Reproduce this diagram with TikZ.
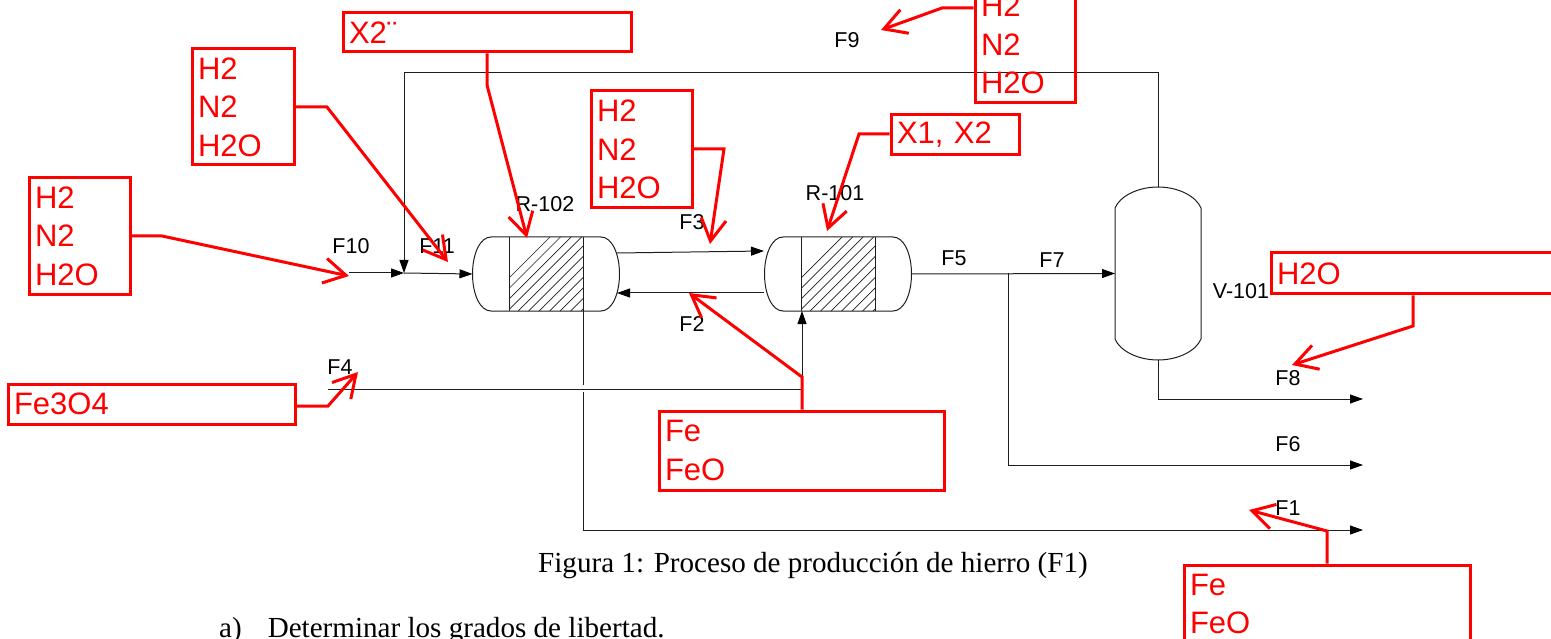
\documentclass[tikz,border=0pt]{standalone}
\usepackage{fontspec}
\setmainfont{Liberation Sans}
\newfontfamily\serifcap{Liberation Serif}
\usetikzlibrary{arrows.meta}
\definecolor{redmark}{RGB}{255,0,0}
\definecolor{procline}{RGB}{30,30,30}
\tikzset{
  redbox/.style={draw=redmark,line width=3pt,text=redmark,rectangle,inner xsep=6pt,inner ysep=0pt,
     align=left,font=\fontsize{31}{38.5}\selectfont},
  redarrow/.style={draw=redmark,line width=3pt,line join=miter,-{Straight Barb[length=22pt,width=25pt,line width=3pt]}},
  proc/.style={draw=procline,line width=1pt},
  flow/.style={proc,-{Triangle[length=13pt,width=9pt,color=black]}},
  lbl/.style={font=\fontsize{21.5}{24}\selectfont,text=black,inner sep=0pt},
  capt/.style={font=\serifcap\fontsize{29.1}{32}\selectfont,text=black,inner sep=0pt,anchor=base west},
  hatchline/.style={draw=procline,line width=0.7pt}
}
\newcommand{\hvessel}[2]{%
  \node[minimum width=147pt,minimum height=74pt,inner sep=0pt,outer sep=0pt] (#1) at (#2,274) {};
  \begin{scope}
    \clip (#2-37,237) rectangle (#2+37,311);
    \foreach \i in {-70,-59.5,...,80} \draw[hatchline] (#2+\i,311) -- (#2+\i+74,237);
  \end{scope}
  \draw[proc] (#2-55,237) .. controls (#2-66,237) and (#2-73.5,254) .. (#2-73.5,274)
     .. controls (#2-73.5,294) and (#2-66,311) .. (#2-55,311) -- (#2+55,311)
     .. controls (#2+66,311) and (#2+73.5,294) .. (#2+73.5,274)
     .. controls (#2+73.5,254) and (#2+66,237) .. (#2+55,237) -- cycle;
  \draw[proc] (#2-37,237) -- (#2-37,311) (#2+37,237) -- (#2+37,311);
}
\begin{document}
\begin{tikzpicture}[x=1pt,y=-1pt]
\useasboundingbox (0,0) rectangle (1551,639);
\clip (0,0) rectangle (1551,639);
% vessels
\hvessel{rtwo}{546}
\hvessel{rone}{838}
\node[minimum width=86pt,minimum height=173pt,inner sep=0pt,outer sep=0pt] (vsep) at (1158,273.5) {};
\draw[proc] (1115,208) .. controls (1120,196) and (1138,187) .. (1158,187)
   .. controls (1178,187) and (1196,196) .. (1201,208) -- (1201,339)
   .. controls (1196,351) and (1178,360) .. (1158,360)
   .. controls (1138,360) and (1120,351) .. (1115,339) -- cycle;
% named points
\coordinate (topR) at (1158,73);
\coordinate (topL) at (404,73);
\coordinate (mix) at (404,273);
\coordinate (fin) at (349,273);
\coordinate (fthreeS) at (617,253);
\coordinate (fthreeE) at (764,251);
\coordinate (ftwoS) at (764,293);
\coordinate (ftwoE) at (617,293);
\coordinate (split) at (1008,273);
\coordinate (fsixC) at (1008,465);
\coordinate (fsixE) at (1363,465);
\coordinate (feightC) at (1158,399);
\coordinate (feightE) at (1363,399);
\coordinate (foneA) at (583,311);
\coordinate (foneG1) at (583,385);
\coordinate (foneG2) at (583,392);
\coordinate (foneC) at (583,530);
\coordinate (foneE) at (1363,530);
\coordinate (ffourS) at (328,389);
\coordinate (ffourC) at (802,389);
\coordinate (ffourE) at (802,311);
% process connectors
\draw[flow] (vsep.north) -- (topR) -- (topL) -- (mix);
\draw[flow] (fin) -- (mix);
\draw[flow] (mix) -- (rtwo.west);
\draw[flow] (fthreeS) -- (fthreeE);
\draw[flow] (ftwoS) -- (ftwoE);
\draw[flow] (rone.east) -- (vsep.west);
\draw[flow] (split) -- (fsixC) -- (fsixE);
\draw[flow] (vsep.south) -- (feightC) -- (feightE);
\draw[proc] (foneA) -- (foneG1);
\draw[flow] (foneG2) -- (foneC) -- (foneE);
\draw[flow] (ffourS) -- (ffourC) -- (ffourE);
% labels
\node[lbl] (lten) at (351,246) {F10};
\node[lbl] (lele) at (437,246) {F11};
\node[lbl] (lrtwo) at (545,204) {R-102};
\node[lbl] (lfthree) at (692,222) {F3};
\node[lbl] (lrone) at (835,193) {R-101};
\node[lbl] (lffive) at (954,258) {F5};
\node[lbl] (lfseven) at (1052,260) {F7};
\node[lbl] (lv) at (1241,291) {V-101};
\node[lbl] (lfeight) at (1288,378) {F8};
\node[lbl] (lfsix) at (1288,444) {F6};
\node[lbl] (lfone) at (1288,508) {F1};
\node[lbl] (lftwo) at (692,324) {F2};
\node[lbl] (lffour) at (340,367) {F4};
\node[lbl] (lfnine) at (847,40) {F9};
% red boxes
\node[redbox,minimum width=288pt,minimum height=39pt,text width=276pt] (bxtwo) at (487,32.5) {X2¨};
\node[redbox,minimum width=102pt,minimum height=116pt,text width=90pt] (ba) at (243,107) {H2\\N2\\H2O};
\node[redbox,minimum width=101pt,minimum height=117pt,text width=89pt] (bb) at (79.5,236) {H2\\N2\\H2O};
\node[redbox,minimum width=101pt,minimum height=117pt,text width=89pt] (bc) at (641.5,149.5) {H2\\N2\\H2O};
\node[redbox,minimum width=128pt,minimum height=40pt,text width=116pt] (bxone) at (955,135) {X1, X2};
\node[redbox,minimum width=100pt,minimum height=117pt,text width=88pt] (btop) at (1025,44.5) {H2\\N2\\H2O};
\node[redbox,minimum width=300pt,minimum height=41pt,text width=288pt] (bw) at (1421,273.5) {H2O};
\node[redbox,minimum width=287pt,minimum height=40pt,text width=275pt] (bmag) at (151.5,404) {Fe3O4};
\node[redbox,minimum width=285pt,minimum height=79pt,text width=273pt] (bfem) at (801.5,450.5) {Fe\\FeO};
\node[redbox,minimum width=286pt,minimum height=116pt,text width=274pt] (bfeb) at (1327,623) {Fe\\FeO\\\mbox{}};
% red connector points
\coordinate (ka) at (327,107); \coordinate (ta) at (448,262);
\coordinate (kb) at (162,236); \coordinate (tb) at (349,276);
\coordinate (kc) at (724,149); \coordinate (tc) at (710,244);
\coordinate (kx) at (487,85); \coordinate (tx) at (527,238);
\coordinate (ko) at (859,134); \coordinate (to) at (827,231);
\coordinate (kt) at (942,8); \coordinate (tt) at (881,30);
\coordinate (kw) at (1413,326); \coordinate (tw) at (1292,365);
\coordinate (km) at (328,406); \coordinate (tm) at (358,372);
\coordinate (kf) at (802,377); \coordinate (tf) at (689,293);
\coordinate (kg) at (1327,531); \coordinate (tg) at (1249,510);
% red connectors
\draw[redarrow] (ba.east |- ka) -- (ka) -- (ta);
\draw[redarrow] (bb.east |- kb) -- (kb) -- (tb);
\draw[redarrow] (bc.east |- kc) -- (kc) -- (tc);
\draw[redarrow] (bxtwo.south) -- (kx) -- (tx);
\draw[redarrow] (bxone.west |- ko) -- (ko) -- (to);
\draw[redarrow] (btop.west |- kt) -- (kt) -- (tt);
\draw[redarrow] (bw.south -| kw) -- (kw) -- (tw);
\draw[redarrow] (bmag.east |- km) -- (km) -- (tm);
\draw[redarrow] (bfem.north -| kf) -- (kf) -- (tf);
\draw[redarrow] (bfeb.north) -- (kg) -- (tg);
% caption text
\node[capt] (cap) at (538,572) {Figura 1: Proceso de producción de hierro (F1)};
\node[capt] (parta) at (219,637) {a)\hspace{26pt}Determinar los grados de libertad.};
\end{tikzpicture}
\end{document}
